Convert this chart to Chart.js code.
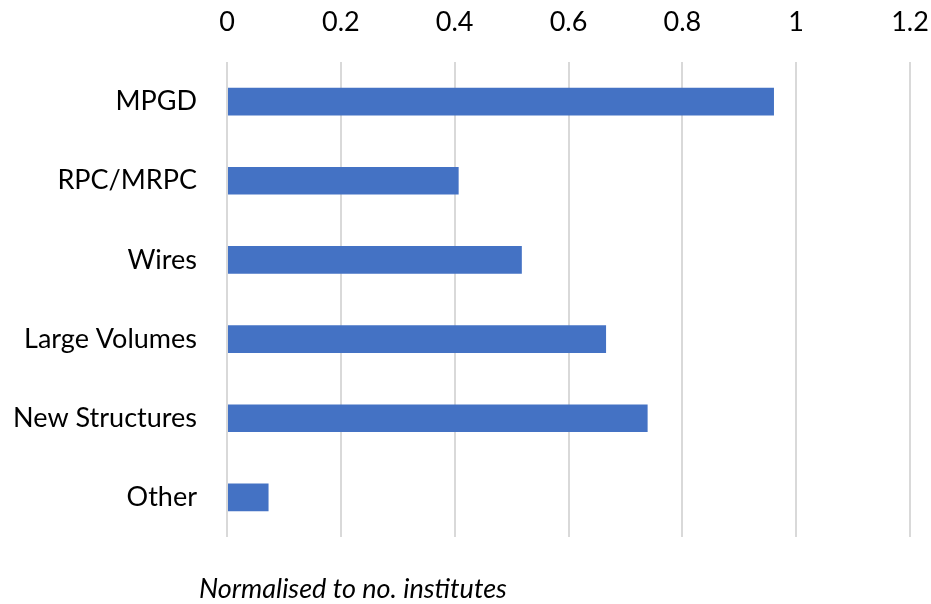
<!DOCTYPE html>
<html>
<head>
<meta charset="utf-8">
<script src="https://cdn.jsdelivr.net/npm/chart.js@4/dist/chart.umd.min.js"></script>
<style>
  html, body { margin: 0; padding: 0; background: #ffffff; }
  #wrap { width: 931px; height: 604px; position: relative; }
</style>
</head>
<body>
<div id="wrap"><canvas id="techChart"></canvas></div>
<script>
// Detector technologies, normalised to number of institutes
const categories = ['MPGD', 'RPC/MRPC', 'Wires', 'Large Volumes', 'New Structures', 'Other'];
const normalisedValues = [0.961, 0.407, 0.518, 0.666, 0.739, 0.073];
const axisTicks = [0, 0.2, 0.4, 0.6, 0.8, 1, 1.2];
const footnote = 'Normalised to no. institutes';

const fontFamily = 'Lato, "Open Sans", sans-serif';
const textColor = '#000000';

// Italic note under the plot, left of centre
const footnotePlugin = {
    id: 'footnote',
    afterDraw(chart) {
        const ctx = chart.ctx;
        ctx.save();
        ctx.font = 'italic 27px ' + fontFamily;
        ctx.fillStyle = textColor;
        ctx.textAlign = 'left';
        ctx.textBaseline = 'alphabetic';
        ctx.fillText(footnote, 199, 598);
        ctx.restore();
    }
};

const ctx = document.getElementById('techChart').getContext('2d');

new Chart(ctx, {
    type: 'bar',
    data: {
        labels: categories,
        datasets: [{
            data: normalisedValues,
            backgroundColor: '#4472C4',
            borderWidth: 0,
            categoryPercentage: 1,
            barPercentage: 0.35
        }]
    },
    options: {
        indexAxis: 'y',
        responsive: true,
        maintainAspectRatio: false,
        animation: false,
        layout: {
            padding: { top: 0, right: 21, bottom: 67, left: 0 }
        },
        plugins: {
            legend: { display: false },
            tooltip: { enabled: false }
        },
        scales: {
            x: {
                position: 'top',
                min: 0,
                max: 1.2,
                afterBuildTicks(scale) {
                    scale.ticks = axisTicks.map(v => ({ value: v }));
                },
                afterFit(scale) {
                    scale.height = 62;
                    // keep the end labels from squeezing the plot
                    scale.paddingLeft = 0;
                    scale.paddingRight = 0;
                },
                border: { display: false },
                grid: {
                    color: '#d9d9d9',
                    lineWidth: 2,
                    drawTicks: false
                },
                ticks: {
                    color: textColor,
                    padding: 24,
                    font: { family: fontFamily, size: 27 },
                    callback: value => String(value)
                }
            },
            y: {
                afterFit(scale) {
                    scale.width = 227;
                },
                border: { display: false },
                grid: { display: false },
                ticks: {
                    color: textColor,
                    padding: 22,
                    font: { family: fontFamily, size: 27 }
                }
            }
        }
    },
    plugins: [footnotePlugin]
});
</script>
</body>
</html>
